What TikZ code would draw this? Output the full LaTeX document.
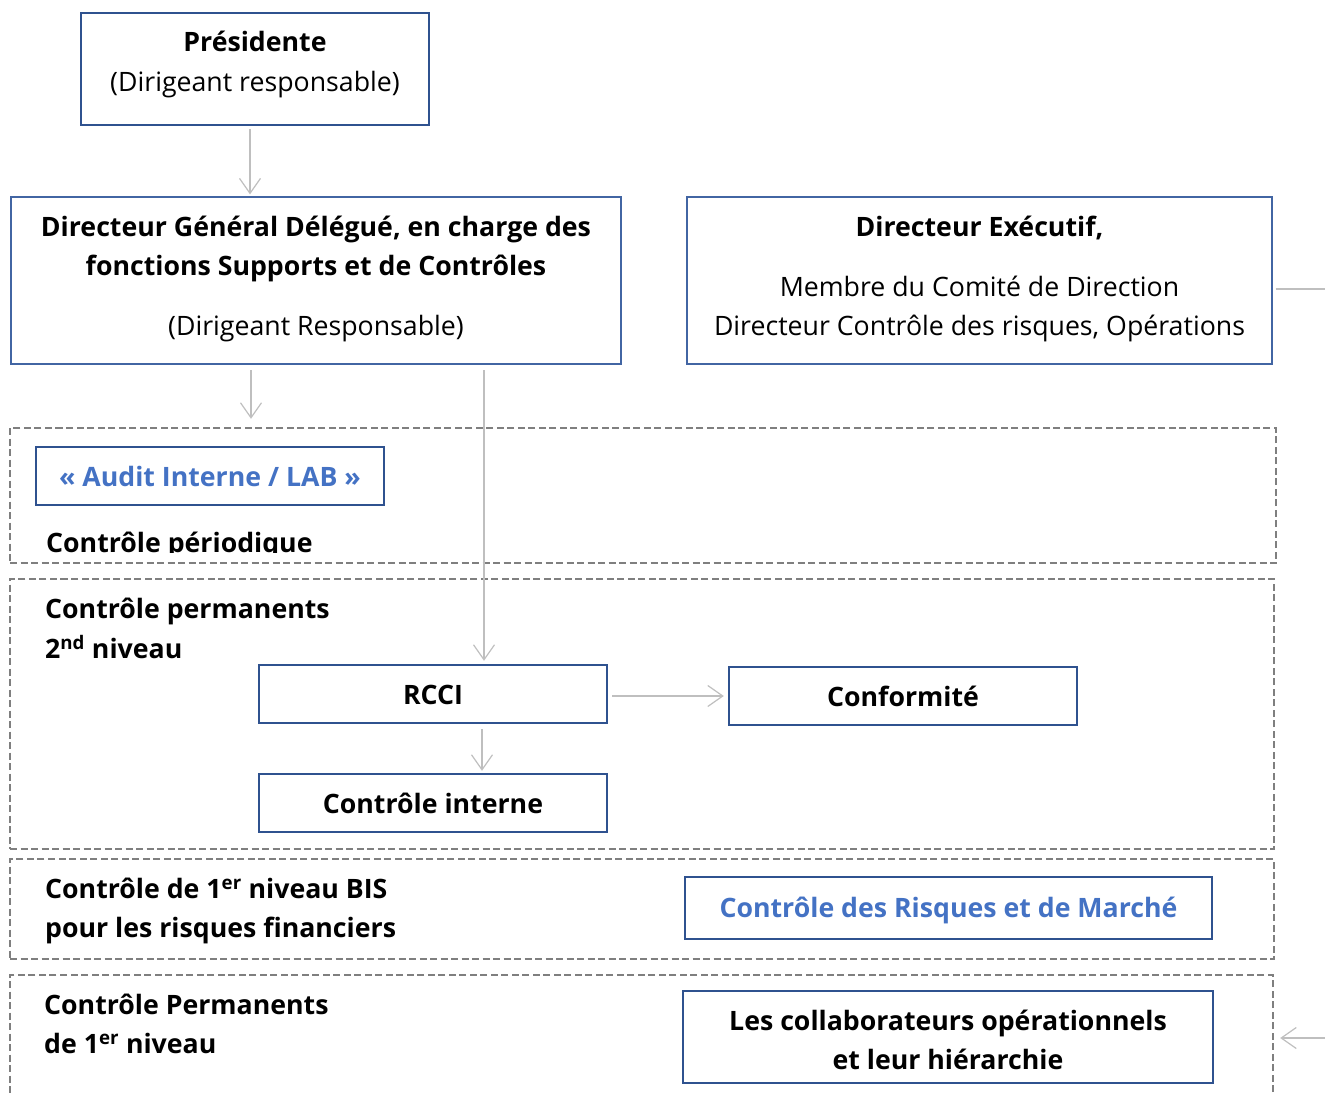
\documentclass[tikz,border=0pt]{standalone}
\usepackage{fontspec}
\setmainfont{Open Sans}
\usetikzlibrary{arrows.meta}

\definecolor{boxblue}{RGB}{47,82,143}
\definecolor{thinblue}{RGB}{66,101,163}
\definecolor{txtblue}{RGB}{68,114,196}
\definecolor{arrgrey}{RGB}{191,191,191}
\definecolor{zonegrey}{RGB}{127,127,127}

\tikzset{
  unitbox/.style={draw=boxblue, line width=2.4pt, inner sep=0pt},
  headbox/.style={draw=thinblue, line width=1.2pt, inner sep=0pt},
  zone/.style={draw=zonegrey, line width=2.4pt, dash pattern=on 7pt off 3.5pt, inner sep=0pt},
  txt/.style={anchor=base, inner sep=0pt, font=\fontsize{26.7}{32}\selectfont},
  btxt/.style={txt, font=\fontsize{26.7}{32}\selectfont\bfseries},
  lbl/.style={btxt, anchor=base west},
  arr/.style={draw=arrgrey, line width=1.2pt, -{Straight Barb[length=15pt,width=21pt]}},
}

\begin{document}
\begin{tikzpicture}[x=1pt, y=-1pt]
\useasboundingbox (0,0) rectangle (1325,1095);
% Top boxes
    \node[unitbox, minimum width=348, minimum height=112] (pres) at (255,69) {};
    \node[headbox, minimum width=610, minimum height=167] (dgd) at (316,280.5) {};
    \node[headbox, minimum width=585, minimum height=167] (dexe) at (979.5,280.5) {};
    \node[btxt] (pres1) at (255,51.5) {Présidente};
    \node[txt] (pres2) at (255,91.5) {(Dirigeant responsable)};
    \node[btxt] (dgd1) at (316,236.5) {Directeur Général Délégué, en charge des};
    \node[btxt] (dgd2) at (316,275.5) {fonctions Supports et de Contrôles};
    \node[txt] (dgd3) at (316,335.5) {(Dirigeant Responsable)};
    \node[btxt] (dexe1) at (979.5,236.5) {Directeur Exécutif,};
    \node[txt] (dexe2) at (979.5,296.5) {Membre du Comité de Direction};
    \node[txt] (dexe3) at (979.5,335.5) {Directeur Contrôle des risques, Opérations};
% Dashed zones
    \node[zone, minimum width=1266, minimum height=135] (per) at (643,495.5) {};
    \node[zone, minimum width=1264, minimum height=270] (perm2) at (642,714) {};
    \node[zone, minimum width=1264, minimum height=100] (bis) at (642,909) {};
    \node[zone, minimum width=1263, minimum height=135] (perm1) at (641.5,1042.5) {};
% Periodic control
    \node[unitbox, minimum width=348, minimum height=58] (audit) at (210,476) {};
    \node[btxt, text=txtblue] (audit1) at (210,486.5) {« Audit Interne / LAB »};
    \begin{scope}
      \clip (11,429) rectangle (1275,552);
      \node[lbl] (per1) at (46,552) {Contrôle périodique};
    \end{scope}
% Permanent control, level 2
    \node[lbl] (perm2a) at (45,618.5) {Contrôle permanents};
    \node[lbl] (perm2b) at (45,658.5) {2\textsuperscript{nd} niveau};
    \node[unitbox, minimum width=348, minimum height=58] (rcci) at (433,694) {};
    \node[unitbox, minimum width=348, minimum height=58] (conf) at (903,696) {};
    \node[unitbox, minimum width=348, minimum height=58] (ci) at (433,803) {};
    \node[btxt] (rcci1) at (433,704.5) {RCCI};
    \node[btxt] (conf1) at (903,706.5) {Conformité};
    \node[btxt] (ci1) at (433,813.5) {Contrôle interne};
% Level 1 BIS
    \node[lbl] (bisa) at (45,898.5) {Contrôle de 1\textsuperscript{er} niveau BIS};
    \node[lbl] (bisb) at (45,937.5) {pour les risques financiers};
    \node[unitbox, minimum width=527, minimum height=62] (crm) at (948.5,908) {};
    \node[btxt, text=txtblue] (crm1) at (948.5,917.5) {Contrôle des Risques et de Marché};
% Level 1
    \node[lbl] (perm1a) at (44,1014.5) {Contrôle Permanents};
    \node[lbl] (perm1b) at (44,1053.5) {de 1\textsuperscript{er} niveau};
    \node[unitbox, minimum width=530, minimum height=92] (collab) at (948,1037) {};
    \node[btxt] (collab1) at (948,1030.5) {Les collaborateurs opérationnels};
    \node[btxt] (collab2) at (948,1069.5) {et leur hiérarchie};
% Connectors
    \coordinate (offr) at (1330,289);
    \coordinate (offb) at (1330,1038);
    \draw[arr, shorten <=3pt, shorten >=2pt] ([xshift=-5pt]pres.south) -- ([xshift=-5pt]pres.south |- dgd.north);
    \draw[arr, shorten <=6pt, shorten >=8pt] (251,364) coordinate (dgdl) -- (dgdl |- per.north);
    \draw[arr, shorten <=6pt, shorten >=3pt] (484,364) coordinate (dgdr) -- (dgdr |- rcci.north);
    \draw[arr, shorten <=4pt, shorten >=4pt] (rcci.east |- conf.center) -- (conf.west);
    \draw[arr, shorten <=5pt, shorten >=2pt] ([xshift=49pt]rcci.south) -- ([xshift=49pt]ci.north);
    \draw[draw=arrgrey, line width=1.2pt, shorten <=3pt] (dexe.east |- offr) -- (offr);
    \draw[arr, shorten >=6pt] (offb) -- (perm1.east |- offb);
\end{tikzpicture}
\end{document}
